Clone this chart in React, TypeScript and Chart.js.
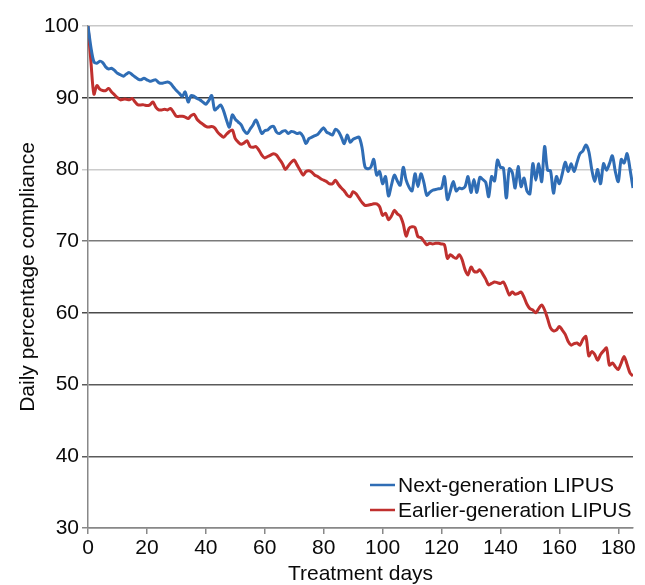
import React, { useEffect, useRef } from "react";
import { Chart, registerables } from "chart.js";

Chart.register(...registerables);

const seriesNames = ["Next-generation LIPUS", "Earlier-generation LIPUS"];
const seriesColors = ["#2f6db5", "#c0302e"];

// Daily compliance (%) for treatment days 0..185
const nextGen = [
  100, 97, 95.0, 94.8, 95.1, 94.9, 94.3, 94.0, 94.1, 93.8,
  93.4, 93.2, 93.0, 93.3, 93.5, 93.2, 92.9, 92.6, 92.5, 92.7,
  92.5, 92.3, 92.4, 92.5, 92.1, 92.0, 92.1, 92.2, 92.0, 91.5,
  91.0, 90.6, 90.2, 90.8, 89.4, 90.3, 90.2, 89.9, 89.7, 89.4,
  89.1, 89.6, 90.3, 88.3, 88.6, 89.0, 88.2, 86.9, 85.9, 87.6,
  87.0, 86.6, 86.2, 85.4, 85.0, 85.6, 86.2, 86.9, 86.0, 85.0,
  85.4, 85.5, 85.9, 86.0, 85.2, 85.0, 85.3, 85.4, 85.0, 85.3,
  85.2, 85.0, 85.1, 84.6, 83.6, 84.3, 84.5, 84.7, 84.9, 85.4,
  85.8, 85.2, 85.0, 84.8, 85.6, 85.3, 84.5, 83.6, 84.8, 83.8,
  84.2, 84.4, 84.5, 83.1, 80.4, 80.1, 80.3, 81.4, 79.2, 79.7,
  78.0, 79.0, 76.3, 77.8, 79.2, 78.4, 77.8, 80.3, 78.5, 77.5,
  77.0, 79.4, 77.6, 79.4, 78.2, 76.4, 76.8, 77.1, 77.2, 77.3,
  77.4, 79.0, 75.8, 77.0, 78.3, 77.0, 77.4, 77.3, 77.6, 79.0,
  76.8, 78.6, 76.8, 78.9, 78.6, 78.2, 76.2, 79.0, 78.4, 81.3,
  80.3, 80.2, 76.0, 80.1, 79.6, 77.4, 80.4, 77.6, 78.8, 77.0,
  76.6, 80.8, 78.5, 80.8, 78.3, 83.2, 79.9, 79.8, 76.7, 79.0,
  78.0, 79.4, 81.0, 79.7, 80.8, 79.7, 81.0, 82.2, 82.6, 83.4,
  82.5, 80.0, 78.3, 80.0, 78.0, 80.8, 79.9, 80.8, 81.9, 79.7,
  78.3, 81.4, 80.9, 82.2, 80.0, 77.4,
];

const earlierGen = [
  100, 95, 90.5, 91.7, 91.2, 91.0, 91.0, 91.3, 90.8, 90.4,
  90.0, 89.7, 89.8, 89.8, 89.7, 89.9, 89.4, 89.0, 89.0, 89.0,
  88.9, 89.0, 89.4, 88.7, 88.3, 88.3, 88.4, 88.3, 88.5, 88.0,
  87.4, 87.4, 87.4, 87.3, 87.1, 87.5, 87.7, 87.0, 86.6, 86.3,
  86.0, 85.9, 86.0, 85.8, 85.2, 84.8, 84.5, 84.9, 85.3, 85.5,
  84.3, 83.8, 83.5, 83.7, 84.0, 83.2, 83.1, 83.2, 82.7, 82.0,
  81.6, 81.8, 82.0, 82.2, 82.0, 81.4, 80.8, 80.0, 80.5, 81.0,
  81.3, 80.6, 79.9, 79.2, 79.7, 79.8, 79.6, 79.2, 79.0, 78.7,
  78.5, 78.3, 78.0, 78.0, 78.5, 77.9, 77.4, 77.0, 76.4, 76.2,
  76.9, 76.6, 76.0, 75.4, 75.0, 75.0, 75.1, 75.2, 75.2, 74.8,
  73.6, 73.9, 73.0, 73.5, 74.3, 73.8, 73.5, 72.4, 70.7, 71.8,
  72.0, 71.9, 70.6, 70.5, 70.0, 69.5, 69.7, 69.6, 69.7, 69.7,
  69.6, 69.5, 67.6, 68.1, 67.8, 67.6, 68.1, 67.4, 66.0, 65.3,
  66.4, 65.8, 65.7, 66.0, 65.4, 64.7, 63.9, 64.1, 64.3, 64.2,
  64.1, 64.3, 63.5, 62.5, 62.9, 62.6, 62.7, 62.9, 62.2, 61.2,
  60.6, 60.4, 60.0, 60.6, 61.1, 60.4, 59.2, 57.9, 57.5, 57.6,
  58.1, 57.6, 57.0, 56.0, 55.5, 55.7, 55.8, 55.5, 56.3, 56.7,
  54.0, 54.6, 54.2, 53.4, 54.2, 54.7, 55.1, 52.7, 53.0, 52.5,
  52.1, 53.0, 53.9, 52.8, 51.6, 51.2,
];

const xTitle = "Treatment days";
const yTitle = "Daily percentage compliance";

const gridColors: Record<number, string> = {
  100: "#c8c8c8",
  90: "#3c3c3c",
  80: "#cccccc",
  70: "#7a7a7a",
  60: "#4a4a4a",
  50: "#5a5a5a",
  40: "#5a5a5a",
  30: "#888888",
};

const FONT = "'Liberation Sans', Arial, sans-serif";

const insideLegend = {
  id: "insideLegend",
  afterDraw(chart: any) {
    const { ctx, chartArea } = chart;
    ctx.save();
    ctx.font = `21px ${FONT}`;
    ctx.textBaseline = "middle";
    ctx.textAlign = "left";
    const textX = chartArea.right - 235;
    const ys = [chartArea.bottom - 43, chartArea.bottom - 18];
    chart.data.datasets.forEach((ds: any, i: number) => {
      const y = ys[i];
      ctx.strokeStyle = ds.borderColor;
      ctx.lineWidth = 2.5;
      ctx.beginPath();
      ctx.moveTo(textX - 28, y);
      ctx.lineTo(textX - 3, y);
      ctx.stroke();
      ctx.fillStyle = "#0a0a0a";
      ctx.fillText(ds.label, textX, y + 1);
    });
    ctx.restore();
  },
};

export default function App() {
  const ref = useRef<HTMLCanvasElement>(null);
  useEffect(() => {
    if (!ref.current) return;
    const chart = new Chart(ref.current, {
      type: "line",
      data: {
        datasets: [
          {
            label: seriesNames[0],
            data: nextGen.map((v, i) => ({ x: i, y: v })),
            borderColor: seriesColors[0],
            backgroundColor: seriesColors[0],
            borderWidth: 3,
            pointRadius: 0,
            tension: 0.3,
          },
          {
            label: seriesNames[1],
            data: earlierGen.map((v, i) => ({ x: i, y: v })),
            borderColor: seriesColors[1],
            backgroundColor: seriesColors[1],
            borderWidth: 3,
            pointRadius: 0,
            tension: 0.3,
          },
        ],
      },
      options: {
        animation: false,
        responsive: true,
        maintainAspectRatio: false,
        layout: { padding: { left: 12, top: 26, right: 12, bottom: 0 } },
        plugins: {
          legend: { display: false },
          tooltip: { enabled: false },
        },
        scales: {
          x: {
            type: "linear",
            min: 0,
            max: 185,
            afterFit: (s: any) => {
              s.height = 57;
            },
            ticks: {
              stepSize: 20,
              includeBounds: false,
              color: "#0a0a0a",
              font: { family: FONT, size: 21 },
              padding: 2,
              maxRotation: 0,
            },
            grid: {
              drawOnChartArea: false,
              drawTicks: true,
              tickLength: 6,
              color: "#888",
              lineWidth: 1.5,
            },
            border: { color: "#888", width: 1.5 },
            title: {
              display: true,
              text: xTitle,
              color: "#0a0a0a",
              font: { family: FONT, size: 21, lineHeight: 1 },
              padding: { top: 0, bottom: 0 },
            },
          },
          y: {
            min: 30,
            max: 100,
            afterFit: (s: any) => {
              s.width = 76;
            },
            ticks: {
              stepSize: 10,
              color: "#0a0a0a",
              font: { family: FONT, size: 21 },
              padding: 3,
            },
            grid: {
              drawTicks: true,
              tickLength: 6,
              color: (c: any) => gridColors[c.tick?.value] ?? "#888",
              lineWidth: 1.5,
            },
            border: { color: "#888", width: 1.5 },
            title: {
              display: true,
              text: yTitle,
              color: "#0a0a0a",
              font: { family: FONT, size: 21, lineHeight: 1.2 },
              padding: { top: 4, bottom: 4 },
            },
          },
        },
      },
      plugins: [insideLegend],
    });
    return () => chart.destroy();
  }, []);
  return (
    <div style={{ position: "fixed", left: 0, top: 0, width: 645, height: 585, background: "#fff" }}>
      <canvas ref={ref} />
    </div>
  );
}
